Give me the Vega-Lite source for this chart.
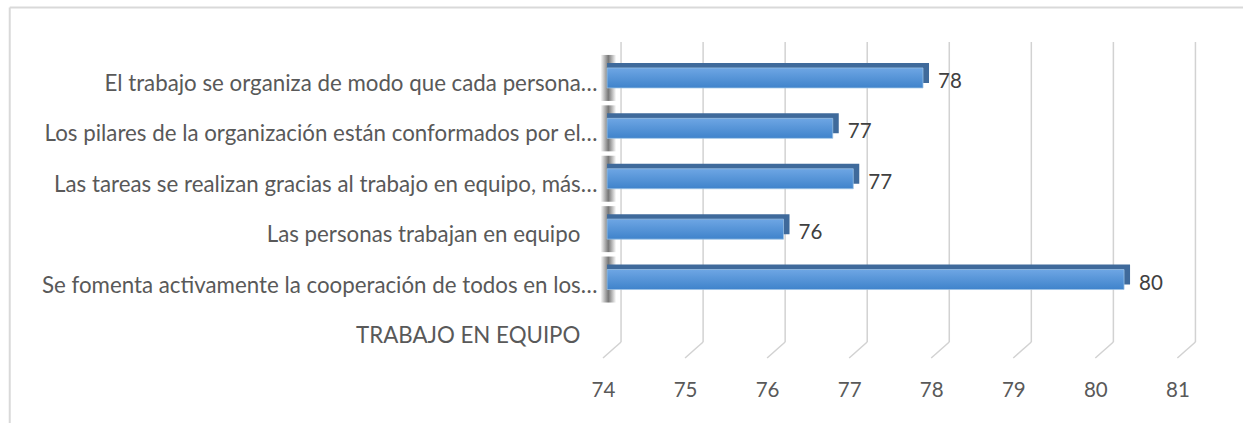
{
"$schema":"https://vega.github.io/schema/vega-lite/v6.json",
"autosize":"none","width":599,"height":320,
"padding":{"left":603,"top":42,"right":41,"bottom":61},
"background":"white",
"config":{"view":{"stroke":null},"font":"Lato"},
"datasets":{
"bars":[
{"pregunta":"El trabajo se organiza de modo que cada persona…","valor":77.9,"etiqueta":78},
{"pregunta":"Los pilares de la organización están conformados por el…","valor":76.8,"etiqueta":77},
{"pregunta":"Las tareas se realizan gracias al trabajo en equipo, más…","valor":77.05,"etiqueta":77},
{"pregunta":"Las personas trabajan en equipo\u00a0\u00a0\u00a0\u200b","valor":76.2,"etiqueta":76},
{"pregunta":"Se fomenta activamente la cooperación de todos en los…","valor":80.35,"etiqueta":80},
{"pregunta":"TRABAJO EN EQUIPO\u00a0\u00a0\u00a0\u200b"}
],
"grid":[
{"tick":74,"fondo":74.22},{"tick":75,"fondo":75.22},{"tick":76,"fondo":76.22},{"tick":77,"fondo":77.22},
{"tick":78,"fondo":78.22},{"tick":79,"fondo":79.22},{"tick":80,"fondo":80.22},{"tick":81,"fondo":81.22}
]
},
"resolve":{"scale":{"y":"independent"}},
"layer":[
{"layer":[
{"data":{"values":[{"a":1}]},"mark":{"type":"rule","color":"#d9d9d9","strokeWidth":2,"clip":false},
 "encoding":{"x":{"datum":66.77,"type":"quantitative"},"y":{"datum":-3.9,"type":"quantitative","scale":{"domain":[0,20]},"axis":null},"y2":{"datum":22.15}}},
{"data":{"values":[{"a":1}]},"mark":{"type":"rule","color":"#d9d9d9","strokeWidth":2,"clip":false},
 "encoding":{"x":{"datum":66.77,"type":"quantitative"},"x2":{"datum":81.8},"y":{"datum":22.15,"type":"quantitative","scale":{"domain":[0,20]},"axis":null}}},
{"data":{"name":"grid"},"mark":{"type":"rule","color":"#d2d2d2","strokeWidth":1.5},
 "encoding":{"x":{"field":"fondo","type":"quantitative"},"y":{"datum":1.25,"type":"quantitative","scale":{"domain":[0,20]},"axis":null},"y2":{"datum":20}}},
{"data":{"name":"grid"},"mark":{"type":"rule","color":"#d2d2d2","strokeWidth":1.5},
 "encoding":{"x":{"field":"tick","type":"quantitative"},"x2":{"field":"fondo"},"y":{"datum":0.25,"type":"quantitative","scale":{"domain":[0,20]},"axis":null},"y2":{"datum":1.25}}}
]},
{"data":{"name":"bars"},
 "encoding":{
  "y":{"field":"pregunta","type":"nominal","sort":null,"title":null,
   "scale":{"domain":["El trabajo se organiza de modo que cada persona…","Los pilares de la organización están conformados por el…","Las tareas se realizan gracias al trabajo en equipo, más…","Las personas trabajan en equipo\u00a0\u00a0\u00a0\u200b","Se fomenta activamente la cooperación de todos en los…","TRABAJO EN EQUIPO\u00a0\u00a0\u00a0\u200b"],"paddingInner":0,"paddingOuter":0.175,"align":0.95},
   "axis":{"domain":false,"ticks":false,"labelFontSize":22.3,"labelColor":"#595959","labelLimit":600,"labelPadding":6,"grid":false}}
 },
 "layer":[
 {"transform":[{"filter":"datum.valor != null"}],
  "mark":{"type":"bar","size":46,"yOffset":-6,"opacity":0.8,"fill":{"gradient":"linear","x1":0,"y1":0,"x2":1,"y2":0,"stops":[{"offset":0,"color":"#ffffff"},{"offset":0.5,"color":"#555555"},{"offset":1,"color":"#ffffff"}]}},
  "encoding":{"x":{"datum":73.97,"type":"quantitative"},"x2":{"datum":74.16}}},
 {"mark":{"type":"bar","size":20,"yOffset":-11,"xOffset":6,"color":"#3f6a9b"},
  "encoding":{"x":{"field":"valor","type":"quantitative","scale":{"domain":[74,81.3],"nice":false,"zero":false},
    "axis":{"values":[74,75,76,77,78,79,80,81],"grid":false,"domain":false,"ticks":false,"labelFontSize":20.5,"labelColor":"#595959","labelPadding":18,"labelFlush":false,"title":null,"format":"d"}},
   "x2":{"datum":74.05}}},
 {"mark":{"type":"bar","size":20,"yOffset":-6,"stroke":"#9cc3e6","strokeWidth":0.75,"fill":{"gradient":"linear","x1":0,"y1":0,"x2":0,"y2":1,"stops":[{"offset":0,"color":"#6ea6e4"},{"offset":1,"color":"#3f83cb"}]}},
  "encoding":{"x":{"field":"valor","type":"quantitative"},"x2":{"datum":74.05}}},
 {"mark":{"type":"text","align":"left","baseline":"middle","dx":15,"dy":-2,"fontSize":20.5,"color":"#404040"},
  "encoding":{"x":{"field":"valor","type":"quantitative"},"text":{"field":"etiqueta","type":"quantitative"}}}
 ]}
]
}
